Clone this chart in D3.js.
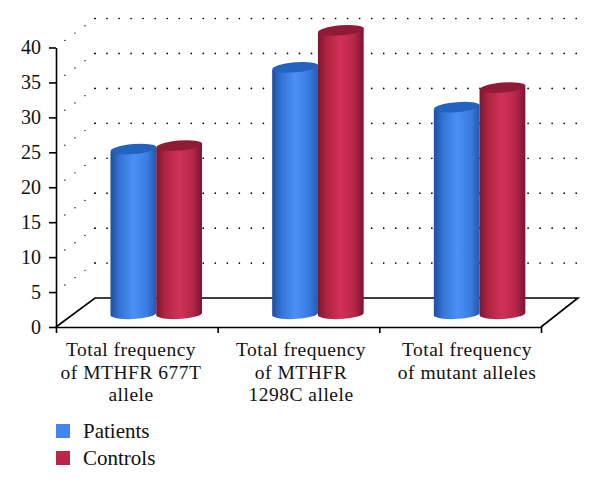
<!DOCTYPE html>
<html>
<head>
<meta charset="utf-8">
<script src="https://d3js.org/d3.v7.min.js"></script>
<style>
    body { margin: 0; background: #fff; }
    text { font-family: "Liberation Serif", serif; fill: #111; }
</style>
</head>
<body>
<svg id="chart" width="600" height="491"></svg>
<script>
var categories = ["Total frequency of MTHFR 677T allele", "Total frequency of MTHFR 1298C allele", "Total frequency of mutant alleles"];
var categoryLines = [
    ["Total frequency", "of MTHFR 677T", "allele"],
    ["Total frequency", "of MTHFR", "1298C allele"],
    ["Total frequency", "of mutant alleles"]
];
var seriesNames = ["Patients", "Controls"];
var patients = [23.6, 35.3, 29.6];
var controls = [24.1, 40.6, 32.4];
var yTicks = [0, 5, 10, 15, 20, 25, 30, 35, 40];

var svg = d3.select("#chart");
var left = 56, right = 541, bottom = 327, top40 = 47.5;
// depth of the 3d box, and how far the bars stand from the front edge
var depthX = 39, depthY = 29, barDepth = 13;
var rx, ry = 5;

var yScale = d3.scaleLinear().domain([0, 40]).range([bottom, top40]);
var xScale = d3.scaleBand().domain(categories).range([left, right]);
var barScale = d3.scaleBand().domain(seriesNames).range([54.5, 146]);
rx = barScale.bandwidth() / 2;

// gradients for the cylinders
var defs = svg.append("defs");
function addGradient(id, stops) {
    var g = defs.append("linearGradient").attr("id", id);
    stops.forEach(function (s) {
        g.append("stop").attr("offset", s[0]).attr("stop-color", s[1]);
    });
}
addGradient("bodyPatients", [[0, "#1d4f9f"], [0.2, "#3373d4"], [0.5, "#4a90f6"], [0.8, "#3a7de0"], [1, "#2459b0"]]);
addGradient("bodyControls", [[0, "#7d1630"], [0.2, "#b02443"], [0.5, "#d23158"], [0.8, "#b52648"], [1, "#7a1530"]]);
var topColor = { Patients: "#2462bf", Controls: "#8f1b36" };
var legendColor = { Patients: "#4285ee", Controls: "#bb2547" };

// dotted walls
var grid = svg.append("g").attr("fill", "none").attr("stroke", "#000")
    .attr("stroke-width", 1.7).attr("stroke-linecap", "round");
yTicks.filter(function (d) { return d > 0; }).forEach(function (d) {
    var y = yScale(d) - depthY;
    grid.append("line")
        .attr("x1", left + depthX).attr("x2", right + depthX + 1)
        .attr("y1", y).attr("y2", y)
        .attr("stroke-dasharray", "0 12.03");
    grid.append("line")
        .attr("x1", left + depthX).attr("x2", left + 6)
        .attr("y1", y).attr("y2", yScale(d) - 5)
        .attr("stroke-width", 1.4)
        .attr("stroke-dasharray", "0 12.4");
});

// floor
svg.append("path")
    .attr("fill", "none").attr("stroke", "#000").attr("stroke-width", 1.6)
    .attr("d", d3.line()([
        [left, bottom],
        [left + depthX, bottom - depthY],
        [right + depthX - 2, bottom - depthY],
        [right, bottom]
    ]));

// axes
var yAxis = d3.axisLeft(yScale).tickValues(yTicks).tickSize(7).tickSizeOuter(0).tickPadding(8);
var yGroup = svg.append("g").attr("transform", "translate(" + left + ",0)").call(yAxis);
yGroup.selectAll("text").style("font-size", "20px").attr("fill", "#111");
yGroup.selectAll("path,line").attr("stroke", "#000").attr("stroke-width", 1.6);

var xTickScale = d3.scaleLinear().domain([0, categories.length]).range([left, right]);
var xAxis = d3.axisBottom(xTickScale).ticks(categories.length).tickFormat("").tickSize(6).tickSizeOuter(0);
var xGroup = svg.append("g").attr("transform", "translate(0," + bottom + ")").call(xAxis);
xGroup.selectAll("path,line").attr("stroke", "#000").attr("stroke-width", 1.6);

// cylinders
function drawCylinder(name, category, value) {
    var x0 = xScale(category) + barScale(name);
    var x1 = x0 + barScale.bandwidth();
    var yTop = yScale(value) - barDepth;
    var yBase = bottom - barDepth;
    var body = "M" + x0 + "," + (yTop + 2.5) +
        "L" + x0 + "," + (yBase + 1) +
        "A" + rx + "," + ry + " -3 0 0 " + x1 + "," + (yBase - 1) +
        "L" + x1 + "," + (yTop - 2.5) + "Z";
    svg.append("path").attr("d", body).attr("fill", "url(#body" + name + ")");
    svg.append("ellipse")
        .attr("cx", (x0 + x1) / 2).attr("cy", yTop)
        .attr("rx", rx).attr("ry", ry)
        .attr("transform", "rotate(-5 " + (x0 + x1) / 2 + " " + yTop + ")")
        .attr("fill", topColor[name]);
}
categories.forEach(function (c, i) {
    drawCylinder("Patients", c, patients[i]);
    drawCylinder("Controls", c, controls[i]);
});

// category labels
var labelCentres = [131, 301, 467];
var labelY = 356, labelStep = 22.5;
categoryLines.forEach(function (lines, i) {
    svg.selectAll("text.cat" + i).data(lines).enter().append("text")
        .attr("class", "cat" + i)
        .attr("x", labelCentres[i])
        .attr("y", function (d, j) { return labelY + j * labelStep; })
        .attr("text-anchor", "middle")
        .style("font-size", "19.5px")
        .style("letter-spacing", "0.5px")
        .text(function (d) { return d; });
});

// legend
var legendY = [424, 451];
seriesNames.forEach(function (name, i) {
    svg.append("rect").attr("x", 56).attr("y", legendY[i])
        .attr("width", 14).attr("height", 14).attr("fill", legendColor[name]);
    svg.append("text").attr("x", 83).attr("y", legendY[i] + 13.5)
        .style("font-size", "21px").text(name);
});
</script>
</body>
</html>
